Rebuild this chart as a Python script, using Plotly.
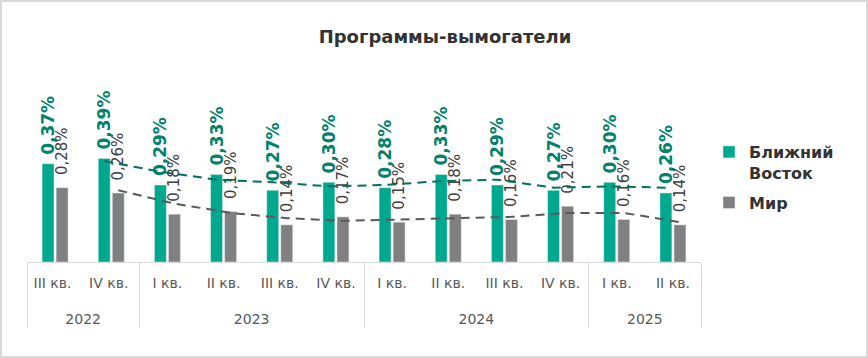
import plotly.graph_objects as go

years = ["2022", "2022", "2023", "2023", "2023", "2023",
         "2024", "2024", "2024", "2024", "2025", "2025"]
quarters = ["III кв.", "IV кв.", "I кв.", "II кв.", "III кв.", "IV кв.",
            "I кв.", "II кв.", "III кв.", "IV кв.", "I кв.", "II кв."]
middle_east = [0.37, 0.39, 0.29, 0.33, 0.27, 0.30, 0.28, 0.33, 0.29, 0.27, 0.30, 0.26]
world = [0.28, 0.26, 0.18, 0.19, 0.14, 0.17, 0.15, 0.18, 0.16, 0.21, 0.16, 0.14]
# 2-period moving-average trend lines as drawn (start at 2nd point)
middle_east_trend = [0.38, 0.34, 0.31, 0.30, 0.285, 0.29, 0.305, 0.31, 0.28, 0.285, 0.28]
world_trend = [0.27, 0.22, 0.185, 0.165, 0.155, 0.16, 0.165, 0.17, 0.185, 0.185, 0.15]

series_names = ["Ближний<br>Восток", "Мир"]
title_text = "Программы-вымогатели"


def fmt(v):
    return f"{v:.2f}".replace(".", ",") + "%"


LBL = "<span style='font-size:14px'>{}</span>"
# Plotly orders 2nd-level categories by first appearance; make the first
# year's quarter keys distinct (trailing space is not rendered) so that
# I, II, III, IV keep their natural order in later years.
quarter_keys = [LBL.format(q) + (" " if y == years[0] else "")
                for y, q in zip(years, quarters)]
year_keys = ["<br>" + LBL.format(y) for y in years]

W, H = 868, 358
ML, MR, MT, MB = 27, 167, 50, 96
PW, PH = W - ML - MR, H - MT - MB
YMAX = PH / 265.5

GREEN = "#00A88E"
GREEN_TXT = "#00826C"
GREEN_LINE = "#00705C"
GRAY = "#808080"
GRAY_TXT = "#404040"
GRAY_LINE = "#595959"
FONT = "DejaVu Sans"
NB = "\u00a0"

OFF = 0.125

fig = go.Figure()
fig.add_trace(go.Bar(
    x=[year_keys, quarter_keys], y=middle_east, name=series_names[0],
    legendgroup="me",
    marker_color=GREEN, text=[NB + fmt(v) for v in middle_east],
    textposition="outside", textangle=-90, cliponaxis=False,
    constraintext="none",
    textfont=dict(family=FONT, size=17, color=GREEN_TXT, weight="bold"),
    hoverinfo="skip",
))
fig.add_trace(go.Bar(
    x=[year_keys, quarter_keys], y=world, name=series_names[1],
    legendgroup="w",
    marker_color=GRAY, text=[NB + NB + fmt(v) for v in world],
    textposition="outside", textangle=-90, cliponaxis=False,
    constraintext="none",
    textfont=dict(family=FONT, size=15, color=GRAY_TXT),
    hoverinfo="skip",
))
idx = list(range(1, len(quarters)))
fig.add_trace(go.Scatter(
    x=[i - OFF for i in idx], y=middle_east_trend, xaxis="x2", mode="lines",
    line=dict(color=GREEN_LINE, width=2, dash="9px,6px"), showlegend=False,
    hoverinfo="skip",
))
fig.add_trace(go.Scatter(
    x=[i + OFF for i in idx], y=world_trend, xaxis="x2", mode="lines",
    line=dict(color=GRAY_LINE, width=2, dash="9px,6px"), showlegend=False,
    hoverinfo="skip",
))

fig.update_layout(
    width=W, height=H,
    margin=dict(l=ML, r=MR, t=MT, b=MB),
    paper_bgcolor="white", plot_bgcolor="white",
    barmode="group", bargap=0.5, bargroupgap=0.15,
    title=dict(text=title_text, x=445 / W, xref="container", xanchor="center",
               y=1 - 37 / H, yref="container", yanchor="middle",
               font=dict(family=FONT, size=18, color="#333333", weight="bold")),
    xaxis=dict(type="multicategory", range=[-0.5, len(quarters) - 0.5],
               showline=True, linecolor="#d9d9d9", linewidth=1,
               showgrid=False, ticks="", showdividers=True,
               dividercolor="#d9d9d9", dividerwidth=1,
               ticklabelstandoff=6,
               tickfont=dict(family=FONT, size=16, color="#595959")),
    xaxis2=dict(overlaying="x", range=[-0.5, len(quarters) - 0.5],
                visible=False, showgrid=False),
    yaxis=dict(range=[0, YMAX], visible=False, showgrid=False, zeroline=False),
    legend=dict(x=(749 - 40 - ML) / PW, xanchor="left", y=(262 - 135) / PH, yanchor="top",
                valign="top", traceorder="grouped", tracegroupgap=6,
                font=dict(family=FONT, size=16, color="#333333", weight="bold"),
                bgcolor="rgba(0,0,0,0)"),
    showlegend=True,
)
fig.add_shape(type="rect", xref="paper", yref="paper",
              x0=-(ML - 1) / PW, x1=(W - ML - 1) / PW,
              y0=-(MB - 1) / PH, y1=(H - MB - 1) / PH,
              line=dict(color="#d9d9d9", width=2), fillcolor="rgba(0,0,0,0)",
              layer="above")

fig.write_html("out.html", config={"displayModeBar": False},
               post_script="document.body.style.margin='0';"
                           "document.body.style.overflow='hidden';")
